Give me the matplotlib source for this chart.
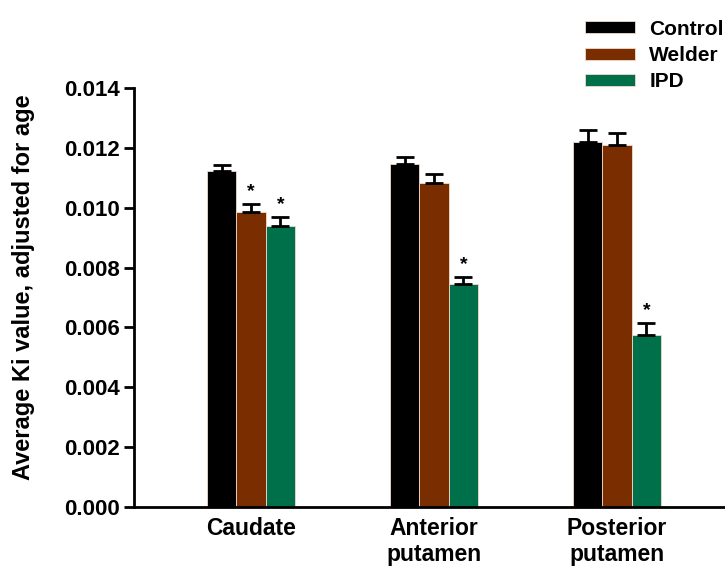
import matplotlib
matplotlib.use("Agg")
import matplotlib.pyplot as plt
import numpy as np

# values
regions = ["Caudate", "Anterior\nputamen", "Posterior\nputamen"]
groups = ["Control", "Welder", "IPD"]
control = [0.01123, 0.01146, 0.01219]
welder = [0.00986, 0.01082, 0.01209]
ipd = [0.00939, 0.00745, 0.00575]
control_err = [0.00020, 0.00023, 0.00040]
welder_err = [0.00026, 0.00030, 0.00040]
ipd_err = [0.00030, 0.00024, 0.00040]
# significance markers (group, region)
stars = [(1, 0), (2, 0), (2, 1), (2, 2)]

colors = ["#000000", "#7A2E00", "#00704A"]

plt.rcParams["font.family"] = ["Liberation Sans", "DejaVu Sans"]
plt.rcParams["font.weight"] = "bold"

fig = plt.figure(figsize=(7.25, 5.67), dpi=100)
ax = fig.add_axes([0.1848, 0.1058, 0.8152, 0.739])

x = np.arange(len(regions))
width = 0.16
series = [control, welder, ipd]
errs = [control_err, welder_err, ipd_err]
for i, (vals, err, col, name) in enumerate(zip(series, errs, colors, groups)):
    pos = x + (i - 1) * width
    ax.bar(pos, vals, width=width, color=col, label=name, zorder=2,
           edgecolor="#F3D9CC", linewidth=0.6)
    ax.errorbar(pos, vals, yerr=[np.zeros(len(err)), err], fmt="none",
                ecolor="black", elinewidth=2.0, capsize=6.5, capthick=2.0,
                zorder=3)

for g, r in stars:
    top = series[g][r] + errs[g][r]
    ax.text(x[r] + (g - 1) * width, top + 0.00014, "*", ha="center",
            va="bottom", fontsize=14, fontweight="bold")

ax.set_xlim(-0.64, 2.59)
ax.set_ylim(0, 0.014)
ticks = np.arange(0, 0.0141, 0.002)
ax.set_yticks(ticks)
ax.set_yticklabels([f"{v:.3f}" for v in ticks])
ax.set_xticks(x)
ax.set_xticklabels(regions, fontsize=16.5, linespacing=1.2)
ax.tick_params(axis="x", length=0, pad=7)
ax.tick_params(axis="y", length=7, width=2, labelsize=16, pad=3)
ax.spines["top"].set_visible(False)
ax.spines["right"].set_visible(False)
ax.spines["left"].set_linewidth(2)
ax.spines["bottom"].set_linewidth(2)
ax.spines["bottom"].set_zorder(4)

ax.set_ylabel("Average Ki value, adjusted for age", fontsize=17,
              fontweight="bold")
ax.yaxis.set_label_coords(-0.167, 0.525)

fig.legend(loc="upper left", bbox_to_anchor=(0.795, 0.98), frameon=False,
           fontsize=15, handlelength=2.4, handleheight=0.5,
           labelspacing=0.35, handletextpad=0.7, borderaxespad=0)

fig.savefig("out.png", dpi=100)
